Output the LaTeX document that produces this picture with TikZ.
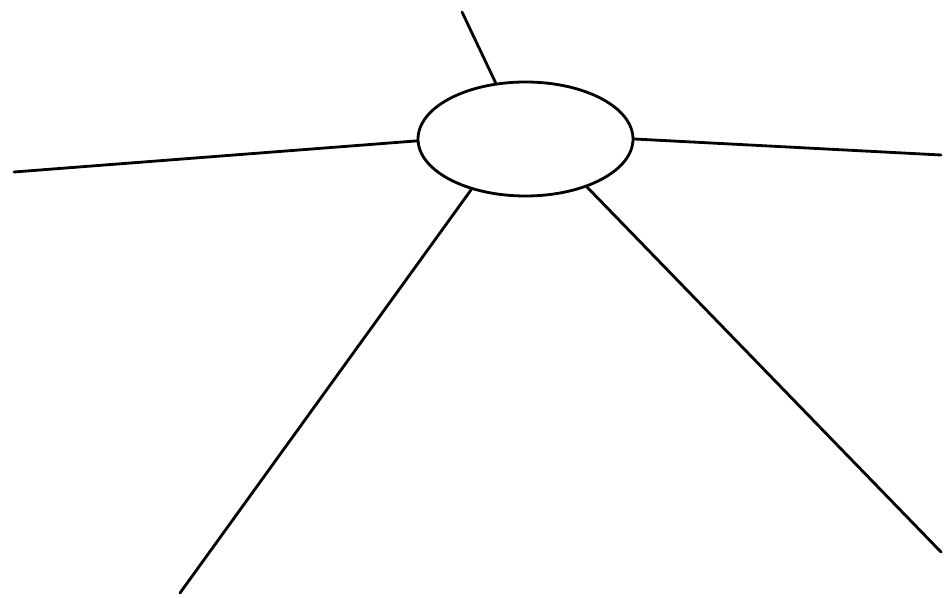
\documentclass[tikz,border=0pt]{standalone}
\usetikzlibrary{shapes.geometric}
\begin{document}
\begin{tikzpicture}[line join=round, line cap=round]
	\tikzset{
		hub/.style={draw, ellipse, line width=0.8pt, inner sep=0pt, minimum width=2.15cm, minimum height=1.14cm},
		spoke/.style={line width=0.8pt}
	}
	\useasboundingbox (0,0) rectangle (9.44,-5.98);
	\node[hub] (E) at (5.255,-1.39) {};
	\path (4.62,-0.12) coordinate (T)
		(0.14,-1.72) coordinate (L)
		(9.41,-1.55) coordinate (R)
		(1.80,-5.93) coordinate (BL)
		(9.41,-5.52) coordinate (BR);
	\draw[spoke] (E.118) -- (T);
	\draw[spoke] (E.181) -- (L);
	\draw[spoke] (E.0) -- (R);
	\draw[spoke] (E.223) -- (BL);
	\draw[spoke] (E.322) -- (BR);
\end{tikzpicture}
\end{document}
